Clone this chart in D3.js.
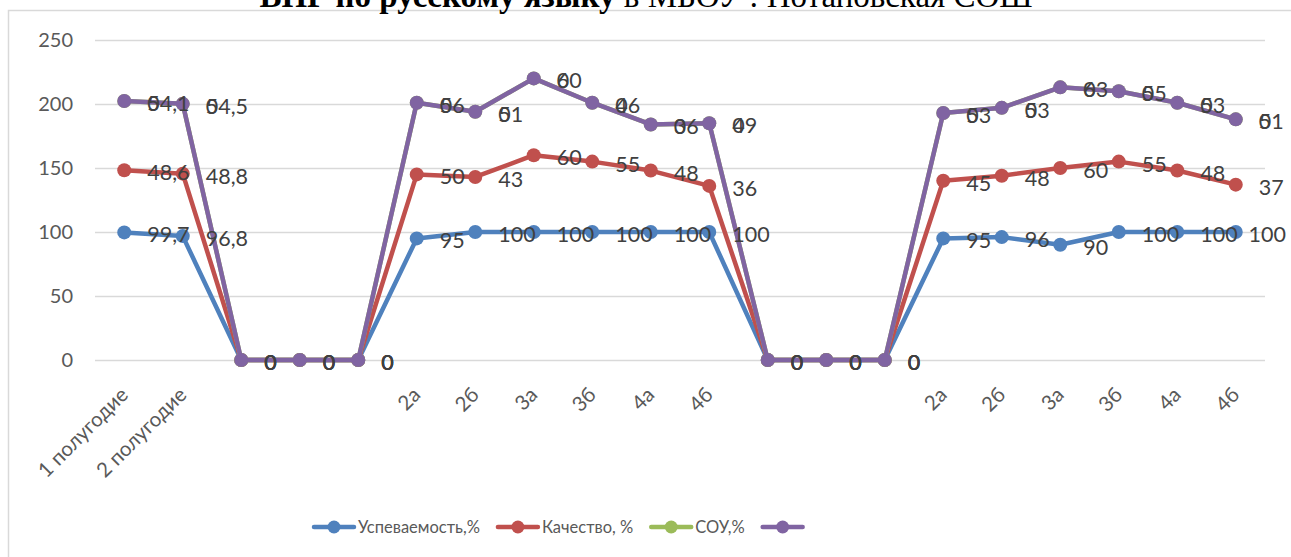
<!DOCTYPE html>
<html><head><meta charset="utf-8">
<script src="https://cdn.jsdelivr.net/npm/d3@7"></script>
<style>html,body{margin:0;padding:0;background:#fff;overflow:hidden}</style>
</head><body>
<svg id="c" width="1291" height="557"></svg>
<script>
const categories = ["1 полугодие","2 полугодие","","","","2а","2б","3а","3б","4а","4б","","","","2а","2б","3а","3б","4а","4б"];
const uspevaemost = [99.7,96.8,0,0,0,95,100,100,100,100,100,0,0,0,95,96,90,100,100,100];
const kachestvo   = [48.6,48.8,0,0,0,50,43,60,55,48,36,0,0,0,45,48,60,55,48,37];
const sou         = [54.1,54.5,0,0,0,56,51,60,46,36,49,0,0,0,53,53,63,55,53,51];
const unnamed     = [0,0,0,0,0,0,0,0,0,0,0,0,0,0,0,0,0,0,0,0];
const seriesNames = ["Успеваемость,%","Качество, %","СОУ,%",""];
const seriesColors = ["#4F81BD","#C0504D","#9BBB59","#8064A2"];
const yTicks = [0,50,100,150,200,250];
const titleBold = "ВПР  по русскому языку";
const titleRest = " в МБОУ : Потаповская СОШ";

const svg = d3.select("#c");
const font = "Lato, 'Open Sans', sans-serif";
const seriesData = [uspevaemost,kachestvo,sou,unnamed];
const rows = categories.map((c,i)=>{const r={i};seriesData.forEach((s,k)=>r["s"+k]=s[i]);return r;});
const keys = seriesData.map((s,k)=>"s"+k);
const stacked = d3.stack().keys(keys)(rows);

const W = 1291;
const x = d3.scalePoint().domain(d3.range(categories.length)).range([95,1265]).padding(0.5);
const y = d3.scaleLinear().domain([0,250]).range([360,40]);

// border
svg.append("path").attr("d","M8.5,557 L8.5,10.5 L1291,10.5").attr("fill","none").attr("stroke","#d9d9d9").attr("stroke-width",1.5);

// title
const t = svg.append("text").attr("x",646).attr("y",7).attr("text-anchor","middle")
  .attr("font-family","'Liberation Serif','Times New Roman',serif").attr("font-size",33).attr("fill","#000");
t.append("tspan").attr("font-weight","bold").text(titleBold);
t.append("tspan").text(titleRest);

// grid
const yAxis = d3.axisLeft(y).tickValues(yTicks).tickSize(-1170).tickPadding(22).tickFormat(d3.format("d"));
const ga = svg.append("g").attr("transform","translate(95,0)").call(yAxis);
ga.select(".domain").remove();
ga.selectAll(".tick line").attr("stroke","#d9d9d9").attr("stroke-width",1.3);
ga.selectAll(".tick text").attr("font-family",font).attr("font-size",20).attr("fill","#595959");

// x labels
const gx = svg.append("g");
categories.forEach((c,i)=>{
  if(!c) return;
  gx.append("text").attr("transform",`translate(${x(i)},${391}) rotate(-45)`)
    .attr("text-anchor","end").attr("dy","0.35em").attr("font-family",font).attr("font-size",20.5).attr("fill","#595959").text(c);
});

// lines
const line = d3.line().x((d,i)=>x(i)).y(d=>y(d[1]));
stacked.forEach((s,k)=>{
  svg.append("path").datum(s).attr("d",line).attr("fill","none").attr("stroke",seriesColors[k])
    .attr("stroke-width",4.5).attr("stroke-linejoin","round").attr("stroke-linecap","round");
  svg.append("g").selectAll("circle").data(s).join("circle")
    .attr("cx",(d,i)=>x(i)).attr("cy",d=>y(d[1])).attr("r",7).attr("fill",seriesColors[k]);
});
// labels
const fmt = v => String(v).replace(".",",");
stacked.forEach((s,k)=>{
  svg.append("g").selectAll("text").data(s).join("text")
    .attr("y",d=>y(d[1])+10)
    .attr("font-family",font).attr("font-size",21.5).attr("fill","#404040")
    .text((d,i)=>fmt(seriesData[k][i]))
    .attr("x",function(d,i){const w=this.getComputedTextLength();return Math.min(x(i)+23, W-5-w);});
});

// legend
const lg = svg.append("g");
let lx = 314; const ly = 527;
seriesNames.forEach((n,k)=>{
  lg.append("line").attr("x1",lx).attr("x2",lx+40).attr("y1",ly).attr("y2",ly).attr("stroke",seriesColors[k]).attr("stroke-width",4.5).attr("stroke-linecap","round");
  lg.append("circle").attr("cx",lx+20).attr("cy",ly).attr("r",6.5).attr("fill",seriesColors[k]);
  const tx = lg.append("text").attr("x",lx+44).attr("y",ly).attr("dy","0.36em").attr("font-family",font).attr("font-size",16.5).attr("fill","#595959").text(n);
  lx += 44 + tx.node().getComputedTextLength() + 18;
});
</script>
</body></html>
